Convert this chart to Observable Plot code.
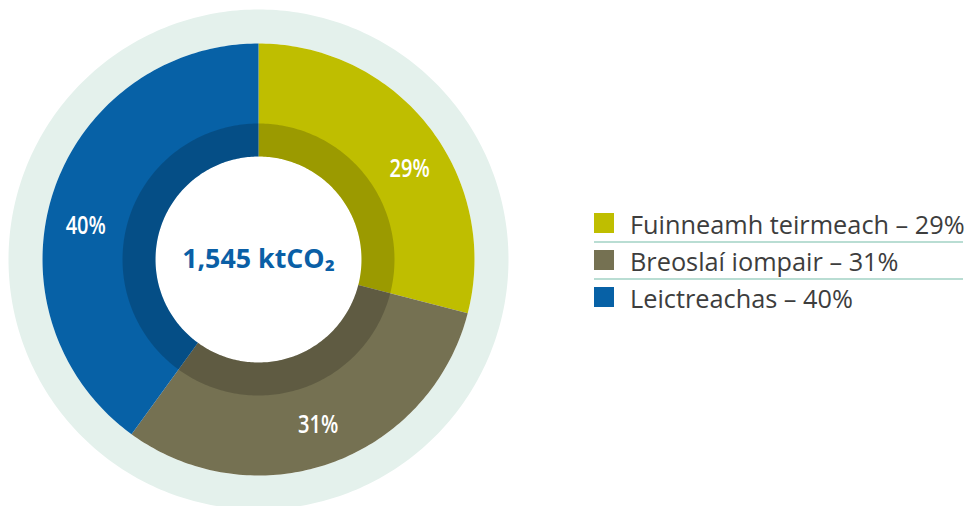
<!DOCTYPE html>
<html><head><meta charset="utf-8">
<script src="https://cdn.jsdelivr.net/npm/d3@7"></script>
<script src="https://cdn.jsdelivr.net/npm/@observablehq/plot@0.6"></script>
<style>
html,body{margin:0;padding:0;background:#fff;}
#wrap{position:relative;width:968px;height:506px;overflow:hidden;font-family:"Open Sans",sans-serif;}
#chart{position:absolute;left:0;top:0;}
.sw{position:absolute;width:20px;height:20px;}
.lt{position:absolute;font-size:25.3px;line-height:24px;color:#3d3d3d;white-space:nowrap;}
.sep{position:absolute;height:2px;background:#B9DDD3;}
</style>
</head><body>
<div id="wrap"><div id="chart"></div></div>
<script>
const categories = ["Fuinneamh teirmeach", "Breoslaí iompair", "Leictreachas"];
const shares = [29, 31, 40];
const palette = ["#BFBE00", "#757152", "#0761A6"];
const totalLabel = "1,545 ktCO₂";

// layout (pixels / degrees)
const W = 968, H = 506, cx = 258, cy = 259, R = 216;
const rHalo = 250 / R, rInner = 136 / R, rHole = 103 / R, rLabel = 176 / R;
const labelNudgeDeg = [7, 0, -7];

function arcPoly(key, a0, a1, r0, r1) {
  const n = Math.max(8, Math.ceil((a1 - a0) / (Math.PI / 180)));
  const pts = [];
  for (let k = 0; k <= n; k++) { const a = a0 + (a1 - a0) * k / n; pts.push({key, x: r1 * Math.sin(a), y: r1 * Math.cos(a)}); }
  for (let k = n; k >= 0; k--) { const a = a0 + (a1 - a0) * k / n; pts.push({key, x: r0 * Math.sin(a), y: r0 * Math.cos(a)}); }
  return pts;
}

const total = d3.sum(shares);
let acc = 0;
const slices = categories.map((c, i) => {
  const a0 = acc / total * 2 * Math.PI; acc += shares[i];
  const a1 = acc / total * 2 * Math.PI;
  return {cat: c, value: shares[i], a0, a1, mid: (a0 + a1) / 2 + labelNudgeDeg[i] * Math.PI / 180};
});

const halo = arcPoly("halo", 0, 2 * Math.PI, 1, rHalo);
const outer = slices.flatMap(s => arcPoly(s.cat, s.a0, s.a1, rHole, 1));
const inner = slices.flatMap(s => arcPoly(s.cat, s.a0, s.a1, rHole, rInner));
const labels = slices.map(s => ({x: rLabel * Math.sin(s.mid), y: rLabel * Math.cos(s.mid), text: s.value + "%"}));

const chart = Plot.plot({
  width: W, height: H,
  marginTop: 0, marginRight: 0, marginBottom: 0, marginLeft: 0,
  x: {domain: [-cx / R, (W - cx) / R], range: [0, W], axis: null},
  y: {domain: [-(H - cy) / R, cy / R], range: [H, 0], axis: null},
  color: {domain: categories, range: palette},
  style: {background: "transparent"},
  marks: [
    Plot.line(halo, {x: "x", y: "y", z: "key", fill: "#E4F1EC", stroke: null, curve: "linear"}),
    Plot.line(outer, {x: "x", y: "y", z: "key", fill: "key", stroke: null, curve: "linear"}),
    Plot.line(inner, {x: "x", y: "y", z: "key", fill: "black", fillOpacity: 0.19, stroke: null, curve: "linear"}),
    Plot.text(labels, {x: "x", y: "y", text: "text", fill: "white", fontSize: 25, fontWeight: 600,
      fontFamily: "'Open Sans', sans-serif"}),
    Plot.text([totalLabel], {x: () => 0, y: () => 0, text: d => d, fill: "#0A5FA6", fontSize: 26.8, fontWeight: 700,
      fontFamily: "'Open Sans', sans-serif"})
  ]
});
document.getElementById("chart").appendChild(chart);
// condense percentage labels (narrow face in the original)
const textGroups = chart.querySelectorAll("g[aria-label=text]");
textGroups[0].querySelectorAll("text").forEach(t => {
  const w = t.getComputedTextLength();
  t.setAttribute("textLength", (w * 0.8).toFixed(1));
  t.setAttribute("lengthAdjust", "spacingAndGlyphs");
});

// legend
const wrap = document.getElementById("wrap");
categories.forEach((c, i) => {
  const top = 213 + i * 37;
  const sw = document.createElement("div");
  sw.className = "sw"; sw.style.left = "594px"; sw.style.top = top + "px"; sw.style.background = palette[i];
  wrap.appendChild(sw);
  const t = document.createElement("div");
  t.className = "lt"; t.style.left = "630px"; t.style.top = (top - 1) + "px";
  t.textContent = c + " – " + shares[i] + "%";
  wrap.appendChild(t);
  if (i < categories.length - 1) {
    const s = document.createElement("div");
    s.className = "sep"; s.style.left = "594px"; s.style.width = "369px"; s.style.top = (241 + i * 37) + "px";
    wrap.appendChild(s);
  }
});
</script>
</body></html>
